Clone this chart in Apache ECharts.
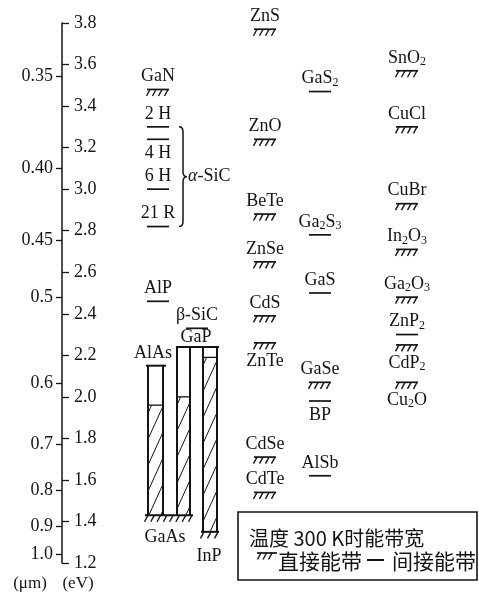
<!DOCTYPE html>
<html><head><meta charset="utf-8">
<script src="https://cdn.jsdelivr.net/npm/echarts@6/dist/echarts.min.js"></script>
<style>html,body{margin:0;padding:0;background:#fff}#c{width:479px;height:594px}</style>
</head><body><div id="c"></div>
<script>
// ---------- axis data ----------
const evMin = 1.2, evMax = 3.8, evStep = 0.2;
const umLabels = ['0.35', '0.40', '0.45', '0.5', '0.6', '0.7', '0.8', '0.9', '1.0'];
const umValues = [0.35, 0.40, 0.45, 0.5, 0.6, 0.7, 0.8, 0.9, 1.0];

// ---------- materials (band gap at 300 K, eV) ----------
const matNames = ['GaN', '2 H', '4 H', '6 H', '21 R', 'AlP', 'β-SiC',
  'ZnS', 'ZnO', 'BeTe', 'ZnSe', 'CdS', 'ZnTe', 'CdSe', 'CdTe',
  'GaS_2', 'Ga_2S_3', 'GaS', 'GaSe', 'BP', 'AlSb',
  'SnO_2', 'CuCl', 'CuBr', 'In_2O_3', 'Ga_2O_3', 'ZnP_2', 'CdP_2', 'Cu_2O'];
const matGaps = [3.48, 3.30, 3.24, 3.00, 2.82, 2.46, 2.33,
  3.77, 3.24, 2.88, 2.65, 2.39, 2.26, 1.71, 1.54,
  3.47, 2.78, 2.50, 2.07, 1.98, 1.62,
  3.57, 3.30, 2.93, 2.71, 2.48, 2.30, 2.25, 2.07];
const matKinds = ['direct', 'indirect', 'indirect', 'indirect', 'indirect', 'indirect', 'indirect',
  'direct', 'direct', 'direct', 'direct', 'direct', 'direct', 'direct', 'direct',
  'indirect', 'indirect', 'indirect', 'direct', 'indirect', 'indirect',
  'direct', 'direct', 'direct', 'direct', 'direct', 'indirect', 'direct', 'direct'];
const matLabelSide = ['above', 'above', 'below', 'above', 'above', 'above', 'above',
  'above', 'above', 'above', 'above', 'above', 'below', 'above', 'above',
  'above', 'above', 'above', 'above', 'below', 'above',
  'above', 'above', 'above', 'above', 'above', 'above', 'below', 'below'];
const matColumn = ['A', 'A', 'A', 'A', 'A', 'A', 'beta',
  'B', 'B', 'B', 'B', 'B', 'B', 'B', 'B',
  'C', 'C', 'C', 'C', 'C', 'C',
  'D', 'D', 'D', 'D', 'D', 'D', 'D', 'D'];

// α-SiC polytypes grouped by the brace
const braceFrom = '2 H', braceTo = '21 R', braceLabel = '{i|α}-SiC';

// ---------- III-V alloy systems ----------
const alloyEnds = ['AlAs', 'GaP', 'GaAs', 'InP'];
const alloyEndGaps = [2.15, 2.24, 1.43, 1.35];
const alloyEndKinds = ['indirect', 'indirect', 'direct', 'direct'];
const boxFrom = ['AlAs', 'GaP', 'GaP'];
const boxTo = ['GaAs', 'GaAs', 'InP'];
const boxCrossover = [1.96, 2.00, 2.19];

// ---------- legend text ----------
const legendTitle = '温度 300 K时能带宽';
const legendDirect = '直接能带';
const legendIndirect = '间接能带';
const unitUm = '(μm)', unitEv = '(eV)';

// ---------- layout (pixels) ----------
const COL_X = { A: 158, B: 265, C: 320, D: 407, beta: 197 };
const MARK_W = 22;
const BOX_X = [[148, 163], [177, 190], [203, 217]];
const END_LAYOUT = {
  AlAs: { x1: 146, x2: 166, lx: 153, dy: -12 },
  GaP:  { x1: 176, x2: 219, lx: 196, dy: -10 },
  GaAs: { x1: 145, x2: 193, lx: 165, dy: 22 },
  InP:  { x1: 201, x2: 219, lx: 209, dy: 24 }
};
const BRACE_X = 179;

const FONT = '"Liberation Serif", "DejaVu Serif", serif';
const CJK = '"Noto Sans CJK SC", sans-serif';
const INK = '#141414';
const FS = 18;

const gapOf = n => {
  let k = alloyEnds.indexOf(n);
  if (k >= 0) return alloyEndGaps[k];
  return matGaps[matNames.indexOf(n)];
};
const umEv = umValues.map(l => 1.2398 / l);

function subRich(name) { return name.replace(/_(\d)/g, '{s|$1}'); }
const RICH = { s: { fontSize: 12, lineHeight: 12, verticalAlign: 'bottom', fontFamily: FONT, fill: INK },
               i: { fontStyle: 'italic', fontSize: FS, fontFamily: FONT, fill: INK } };

function markChildren(x1, x2, cy, kind) {
  const ch = [{ type: 'line', shape: { x1: x1, y1: cy, x2: x2, y2: cy }, style: { stroke: INK, lineWidth: 1.7 } }];
  if (kind === 'direct') {
    const w = x2 - x1;
    const n = Math.max(3, Math.round(w / 6));
    for (let k = 0; k < n; k++) {
      const x = x1 + 3 + k * (w - 4) / (n - 1);
      ch.push({ type: 'line', shape: { x1: x, y1: cy, x2: x - 3.5, y2: cy + 6.5 }, style: { stroke: INK, lineWidth: 1.4 } });
    }
  }
  return ch;
}
function label(text, x, y, align) {
  return { type: 'text', style: { text: text, x: x, y: y, align: align || 'center', verticalAlign: 'middle',
    fontFamily: FONT, fontSize: FS, lineHeight: 20, fill: INK, rich: RICH } };
}

const chart = echarts.init(document.getElementById('c'), null, { renderer: 'canvas' });

const option = {
  backgroundColor: '#fff',
  animation: false,
  grid: { left: 62, right: 0, top: 23, bottom: 31 },
  xAxis: { type: 'value', min: 62, max: 479, show: false },
  yAxis: [
    { type: 'value', min: evMin, max: evMax, interval: evStep, position: 'left',
      axisLine: { show: true, lineStyle: { color: INK, width: 1.5 } },
      axisTick: { show: true, inside: true, length: 7, lineStyle: { color: INK, width: 1.3 } },
      axisLabel: { inside: true, margin: 12, color: INK, fontFamily: FONT, fontSize: FS,
        formatter: v => v.toFixed(1) },
      splitLine: { show: false } },
    { type: 'value', min: evMin, max: evMax, position: 'left',
      axisLine: { show: false },
      axisTick: { show: true, inside: false, length: 6, customValues: umEv, lineStyle: { color: INK, width: 1.3 } },
      axisLabel: { margin: 9, color: INK, fontFamily: FONT, fontSize: FS, customValues: umEv,
        formatter: v => { let b = 0; umEv.forEach((e, i) => { if (Math.abs(e - v) < Math.abs(umEv[b] - v)) b = i; }); return umLabels[b]; } },
      splitLine: { show: false } }
  ],
  series: [
    { // single materials
      type: 'custom', coordinateSystem: 'cartesian2d', clip: false,
      data: matNames.map((n, i) => [COL_X[matColumn[i]], matGaps[i], i]),
      renderItem: (params, api) => {
        const i = api.value(2);
        const p = api.coord([api.value(0), api.value(1)]);
        const kind = matKinds[i];
        const ch = markChildren(p[0] - MARK_W / 2, p[0] + MARK_W / 2, p[1], kind);
        const ty = matLabelSide[i] === 'above' ? p[1] - 13 : p[1] + (kind === 'direct' ? 18 : 14);
        ch.push(label(subRich(matNames[i]), p[0], ty));
        return { type: 'group', children: ch };
      }
    },
    { // brace for α-SiC
      type: 'custom', coordinateSystem: 'cartesian2d', clip: false,
      data: [[BRACE_X, gapOf(braceFrom), gapOf(braceTo)]],
      renderItem: (params, api) => {
        const t = api.coord([api.value(0), api.value(1)]);
        const b = api.coord([api.value(0), api.value(2)]);
        const x0 = t[0], xm = x0 + 4, xt = x0 + 8;
        const yT = t[1], yB = b[1], ym = (yT + yB) / 2;
        const d = `M${x0} ${yT} Q${xm} ${yT} ${xm} ${yT + 5} L${xm} ${ym - 5} Q${xm} ${ym} ${xt} ${ym} Q${xm} ${ym} ${xm} ${ym + 5} L${xm} ${yB - 5} Q${xm} ${yB} ${x0} ${yB}`;
        return { type: 'group', children: [
          { type: 'path', shape: { pathData: d }, style: { fill: 'none', stroke: INK, lineWidth: 1.5 } },
          label(braceLabel, xt + 1, ym, 'left')
        ] };
      }
    },
    { // alloy boxes
      type: 'custom', coordinateSystem: 'cartesian2d', clip: false,
      data: boxFrom.map((f, j) => [j, gapOf(f), gapOf(boxTo[j]), boxCrossover[j]]),
      renderItem: (params, api) => {
        const j = api.value(0);
        const xl = api.coord([BOX_X[j][0], 2])[0], xr = api.coord([BOX_X[j][1], 2])[0];
        const yt = api.coord([BOX_X[j][0], api.value(1)])[1];
        const yb = api.coord([BOX_X[j][0], api.value(2)])[1];
        const yc = api.coord([BOX_X[j][0], api.value(3)])[1];
        const ch = [];
        const w = xr - xl, s = 2.2, gap = 26;
        for (let c = yc + 8; c < yb + s * w + gap; c += gap) {
          let ax = xl, ay = c, bx = xr, by = c - s * w;
          if (ay > yb) { ax = xl + (ay - yb) / s; ay = yb; }
          if (by < yc) { bx = xl + (c - yc) / s; by = yc; }
          if (ax < bx) ch.push({ type: 'line', shape: { x1: ax, y1: ay, x2: bx, y2: by }, style: { stroke: INK, lineWidth: 1 } });
        }
        ch.push({ type: 'line', shape: { x1: xl, y1: yc, x2: xr, y2: yc }, style: { stroke: INK, lineWidth: 1.3 } });
        ch.push({ type: 'line', shape: { x1: xl, y1: yt, x2: xl, y2: yb }, style: { stroke: INK, lineWidth: 2 } });
        ch.push({ type: 'line', shape: { x1: xr, y1: yt, x2: xr, y2: yb }, style: { stroke: INK, lineWidth: 2 } });
        return { type: 'group', children: ch };
      }
    },
    { // alloy end compounds
      type: 'custom', coordinateSystem: 'cartesian2d', clip: false,
      data: alloyEnds.map((n, k) => [k, alloyEndGaps[k]]),
      renderItem: (params, api) => {
        const k = api.value(0);
        const L = END_LAYOUT[alloyEnds[k]];
        const a = api.coord([L.x1, api.value(1)]), b = api.coord([L.x2, api.value(1)]);
        const ch = markChildren(a[0], b[0], a[1], alloyEndKinds[k]);
        ch.forEach(c => { if (c.shape.y1 === c.shape.y2) c.style.lineWidth = 2; });
        ch.push(label(alloyEnds[k], api.coord([L.lx, 2])[0], a[1] + L.dy));
        return { type: 'group', children: ch };
      }
    }
  ],
  graphic: [
    { type: 'text', style: { text: unitUm, x: 30, y: 584, align: 'center', verticalAlign: 'middle', fontFamily: FONT, fontSize: 17, fill: INK } },
    { type: 'text', style: { text: unitEv, x: 78, y: 584, align: 'center', verticalAlign: 'middle', fontFamily: FONT, fontSize: 17, fill: INK } },
    { type: 'rect', shape: { x: 238, y: 512, width: 239, height: 68 }, style: { fill: 'none', stroke: INK, lineWidth: 1.6 } },
    { type: 'text', style: { text: legendTitle, x: 249, y: 538, align: 'left', verticalAlign: 'middle', fontFamily: CJK, fontSize: 20, fill: INK } },
    { type: 'line', shape: { x1: 257, y1: 553, x2: 277, y2: 553 }, style: { stroke: INK, lineWidth: 1.7 } },
    { type: 'line', shape: { x1: 261, y1: 553, x2: 257.5, y2: 559.5 }, style: { stroke: INK, lineWidth: 1.4 } },
    { type: 'line', shape: { x1: 266.5, y1: 553, x2: 263, y2: 559.5 }, style: { stroke: INK, lineWidth: 1.4 } },
    { type: 'line', shape: { x1: 272, y1: 553, x2: 268.5, y2: 559.5 }, style: { stroke: INK, lineWidth: 1.4 } },
    { type: 'text', style: { text: legendDirect, x: 278, y: 561, align: 'left', verticalAlign: 'middle', fontFamily: CJK, fontSize: 21, fill: INK } },
    { type: 'line', shape: { x1: 367, y1: 560, x2: 384, y2: 560 }, style: { stroke: INK, lineWidth: 2 } },
    { type: 'text', style: { text: legendIndirect, x: 392, y: 561, align: 'left', verticalAlign: 'middle', fontFamily: CJK, fontSize: 21, fill: INK } }
  ]
};
chart.setOption(option);
</script>
</body></html>
